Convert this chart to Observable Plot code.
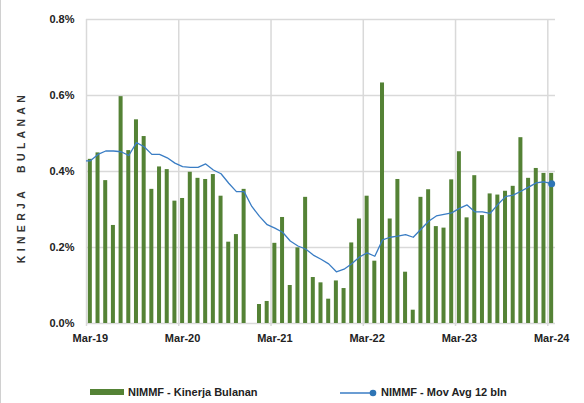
<!DOCTYPE html>
<html><head><meta charset="utf-8">
<script src="https://cdn.jsdelivr.net/npm/d3@7"></script>
<script src="https://cdn.jsdelivr.net/npm/@observablehq/plot@0.6"></script>
<style>
body{margin:0;background:#fff;font-family:"Liberation Sans",Arial,sans-serif;}
#wrap{position:relative;width:584px;height:403px;overflow:hidden;}
#border{position:absolute;left:0;top:0;width:1px;height:403px;background:#d0d0d0;}
#ytitle{position:absolute;left:21px;top:177px;transform:translate(-50%,-50%) rotate(-90deg);
  white-space:pre;font-size:10.5px;font-weight:bold;letter-spacing:4.3px;color:#333;line-height:12px;}
#legend{position:relative;height:53px;font-size:11px;font-weight:bold;color:#222;}
#legend span{position:absolute;white-space:nowrap;line-height:13px;}
</style></head>
<body><div id="wrap"><div id="chart"></div>
<div id="legend">
  <div id="sw" style="position:absolute;left:90px;top:39px;width:34px;height:6px;background:#548235"></div>
  <span id="lg1" style="left:128px;top:36px"></span>
  <svg style="position:absolute;left:338px;top:37px" width="42" height="12"><line x1="2" x2="35" y1="6" y2="6" stroke="#3a7dc4" stroke-width="1.3"/><circle cx="35" cy="6" r="3.3" fill="#2e75b6"/></svg>
  <span id="lg2" style="left:381px;top:36px"></span>
</div>
<div id="ytitle"></div>
<div id="border"></div></div>
<script>
// Monthly performance (%), Feb-19 .. Mar-24
const monthly = [0.50,0.432,0.449,0.376,0.258,0.597,0.455,0.536,0.492,0.353,0.412,0.405,
  0.322,0.329,0.398,0.382,0.379,0.392,0.335,0.214,0.234,0.353,-0.004,0.050,
  0.058,0.211,0.279,0.100,0.199,0.332,0.121,0.107,0.064,0.112,0.092,0.212,
  0.275,0.335,0.164,0.633,0.275,0.379,0.135,0.035,0.332,0.352,0.255,0.251,
  0.378,0.452,0.278,0.389,0.284,0.341,0.338,0.348,0.361,0.489,0.382,0.408,
  0.395,0.395];
// 12-month moving average (%)
const movAvg = [0.428,0.428,0.445,0.454,0.454,0.452,0.442,0.476,0.465,0.445,0.445,0.436,
  0.422,0.413,0.411,0.411,0.420,0.404,0.394,0.369,0.347,0.347,0.308,0.282,
  0.260,0.251,0.240,0.217,0.204,0.196,0.180,0.169,0.157,0.136,0.143,0.157,
  0.175,0.186,0.177,0.220,0.227,0.230,0.234,0.227,0.248,0.269,0.283,0.287,
  0.291,0.303,0.312,0.294,0.294,0.290,0.313,0.334,0.338,0.348,0.359,0.370,
  0.373,0.368];
const yTicks = [0, 0.2, 0.4, 0.6, 0.8];
const tickLabels = ["Mar-19","Mar-20","Mar-21","Mar-22","Mar-23","Mar-24"];
const yTitle = "KINERJA  BULANAN";
const seriesNames = ["NIMMF - Kinerja Bulanan", "NIMMF - Mov Avg 12 bln"];

document.getElementById("ytitle").textContent = yTitle;
document.getElementById("lg1").textContent = seriesNames[0];
document.getElementById("lg2").textContent = seriesNames[1];

const fmt = d3.utcFormat("%b-%y");
const months = d3.utcMonth.range(new Date(Date.UTC(2019,1,1)), new Date(Date.UTC(2024,3,1))).map(fmt);
const data = monthly.map((v,i)=>({i, v, ma: movAvg[i], m: months[i]}));
const labelPos = tickLabels.map(t => months.indexOf(t));
const gridPos = labelPos.map(p => p - 0.5);

const grid = "#d9d9d9";
const chart = Plot.plot({
  width: 584, height: 350,
  marginLeft: 86, marginRight: 29, marginTop: 19, marginBottom: 27,
  style: {fontFamily: "Liberation Sans, Arial, sans-serif", fontSize: "11px", color: "#222", background: "white"},
  x: {domain: [0.5, 61.5], axis: null},
  y: {domain: [0, 0.8], axis: null},
  marks: [
    Plot.ruleY(yTicks, {stroke: grid, strokeWidth: 1.5}),
    Plot.ruleX(gridPos, {stroke: grid, strokeWidth: 1.5, insetBottom: -3}),
    Plot.rectY(data, {x1: d => d.i - 0.26, x2: d => d.i + 0.26, y: "v",
      fill: d => d.v < 0 ? "#ff6666" : "#548235", clip: true}),
    Plot.lineY(data, {x: "i", y: "ma", stroke: "#3a7dc4", strokeWidth: 1.3, clip: true}),
    Plot.dot(data.slice(-1), {x: "i", y: "ma", r: 3.5, fill: "#2e75b6"}),
    Plot.text(yTicks, {y: d => d, text: d => d.toFixed(1) + "%", frameAnchor: "left",
      textAnchor: "end", dx: -12, fontWeight: "bold", fontSize: 11, fill: "#222"}),
    Plot.text(labelPos, {x: d => d, text: (d, k) => tickLabels[k], frameAnchor: "bottom",
      dy: 18, fontWeight: "bold", fontSize: 11, fill: "#222"})
  ]
});
document.getElementById("chart").appendChild(chart);
</script></body></html>
